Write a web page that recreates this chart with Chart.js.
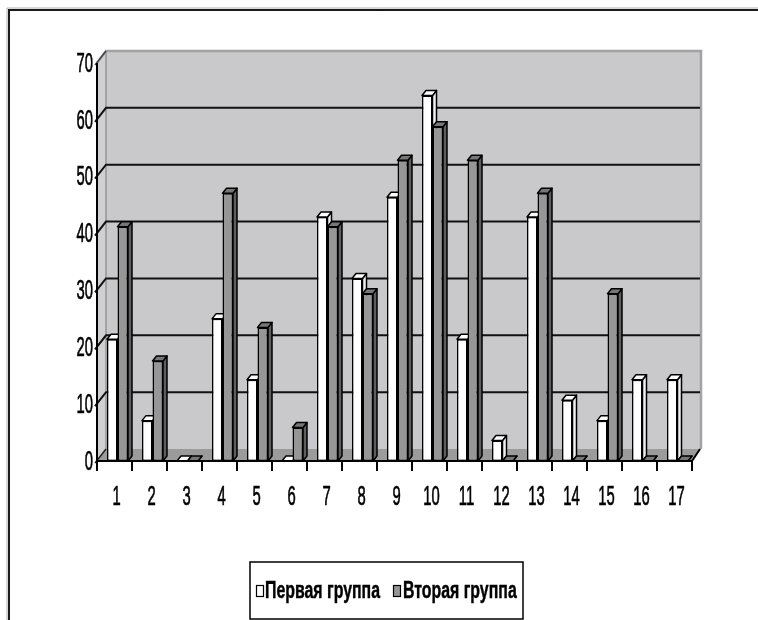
<!DOCTYPE html>
<html>
<head>
<meta charset="utf-8">
<script src="https://cdn.jsdelivr.net/npm/chart.js@4/dist/chart.umd.min.js"></script>
<style>
  html, body { margin: 0; padding: 0; background: #fff; }
  #wrap { width: 758px; height: 620px; }
</style>
</head>
<body>
<div id="wrap"><canvas id="chart" width="758" height="620"></canvas></div>
<script>
// --- data ---
const categories = ['1', '2', '3', '4', '5', '6', '7', '8', '9', '10', '11', '12', '13', '14', '15', '16', '17'];
const firstGroup = [21.4, 7.1, 0, 25, 14.3, 0, 42.9, 32.1, 46.4, 64.3, 21.4, 3.6, 42.9, 10.7, 7.1, 14.3, 14.3];
const secondGroup = [41.2, 17.6, 0, 47.1, 23.5, 5.9, 41.2, 29.4, 52.9, 58.8, 52.9, 0, 47.1, 0, 29.4, 0, 0];
const yTicks = [0, 10, 20, 30, 40, 50, 60, 70];
const seriesNames = ['Первая группа', 'Вторая группа'];

// --- look ---
const DX = 9, DY = -12;      // depth of the back wall
const BX = 4, BY = -5;       // depth of each bar
const OFF = 3;               // bars stand a little behind the front plane
const WALL = '#c9c9cb';
const FLOOR = '#9b9b9b';
const EDGE = '#a2a2a2';
const fills = [
    { front: '#ffffff', top: '#ffffff', side: '#f0f0f0' },
    { front: '#969696', top: '#777777', side: '#5e5e5e' }
];

const narrowText = (ctx, txt, x, y, opts) => {
    ctx.save();
    ctx.translate(x, y);
    ctx.scale(opts.sx, opts.sy);
    ctx.font = opts.font;
    ctx.fillStyle = '#000';
    ctx.textAlign = opts.align || 'center';
    ctx.textBaseline = opts.baseline || 'middle';
    ctx.fillText(txt, 0, 0);
    if (opts.stroke) {
        ctx.strokeStyle = '#000';
        ctx.lineWidth = opts.stroke;
        ctx.strokeText(txt, 0, 0);
    }
    ctx.restore();
};

const poly = (ctx, pts, fill, stroke, lw) => {
    ctx.beginPath();
    ctx.moveTo(pts[0][0], pts[0][1]);
    for (let i = 1; i < pts.length; i++) ctx.lineTo(pts[i][0], pts[i][1]);
    ctx.closePath();
    if (fill) { ctx.fillStyle = fill; ctx.fill(); }
    if (stroke) { ctx.strokeStyle = stroke; ctx.lineWidth = lw || 1; ctx.lineJoin = 'round'; ctx.stroke(); }
};

const line = (ctx, pts, color, lw) => {
    ctx.beginPath();
    ctx.moveTo(pts[0][0], pts[0][1]);
    for (let i = 1; i < pts.length; i++) ctx.lineTo(pts[i][0], pts[i][1]);
    ctx.strokeStyle = color;
    ctx.lineWidth = lw;
    ctx.stroke();
};

// walls, floor, grid and the 3D faces of each bar (fronts are drawn by Chart.js)
const wallPlugin = {
    id: 'wall3d',
    beforeDatasetsDraw(chart) {
        const { ctx, chartArea: ca, scales } = chart;
        const ys = scales.y;
        const a = { left: ca.left - OFF, right: ca.right - OFF, top: ca.top, bottom: ca.bottom };
        ctx.save();
        // side wall + back wall
        poly(ctx, [[a.left, a.bottom], [a.left, a.top], [a.left + DX, a.top + DY], [a.left + DX, a.bottom + DY]], '#d0d0d2');
        ctx.fillStyle = WALL;
        ctx.fillRect(a.left + DX, a.top + DY, a.right - a.left, a.bottom - a.top);
        // floor
        poly(ctx, [[a.left, a.bottom], [a.right, a.bottom], [a.right + DX, a.bottom + DY], [a.left + DX, a.bottom + DY]], FLOOR);
        // wall edges
        line(ctx, [[a.left, a.top], [a.left + DX, a.top + DY], [a.right + DX, a.top + DY], [a.right + DX, a.bottom + DY]], EDGE, 2.5);
        line(ctx, [[a.left + DX, a.top + DY], [a.left + DX, a.bottom + DY]], EDGE, 2);
        // grid lines
        yTicks.forEach(v => {
            if (v === 0 || v === 70) return;
            const y = ys.getPixelForValue(v);
            line(ctx, [[a.left - 2, y + 2], [a.left + DX, y + DY], [a.right + DX - 1, y + DY]], '#111', 2);
        });
        line(ctx, [[a.left - 2, a.top + 2], [a.left + DX, a.top + DY]], '#444', 1.5);
        line(ctx, [[a.left - 2, a.bottom + 2], [a.left + DX, a.bottom + DY]], '#222', 1.5);

        // side and top faces, per category, first series before second
        for (let i = 0; i < categories.length; i++) {
            chart.data.datasets.forEach((ds, d) => {
                const el = chart.getDatasetMeta(d).data[i];
                if (!el) return;
                const p = el.getProps(['x', 'y', 'base', 'width'], true);
                const L = p.x - p.width / 2, R = p.x + p.width / 2;
                poly(ctx, [[R, p.y], [R + BX, p.y + BY], [R + BX, p.base + BY], [R, p.base]], fills[d].side, '#000', 1.5);
                poly(ctx, [[L, p.y], [L + BX, p.y + BY], [R + BX, p.y + BY], [R, p.y]], fills[d].top, '#000', 1.5);
            });
        }
        ctx.restore();
    },
    afterDraw(chart) {
        const { ctx, chartArea: ca, scales } = chart;
        const xs = scales.x, ys = scales.y;
        const a = { left: ca.left - OFF, right: ca.right - OFF, top: ca.top, bottom: ca.bottom };
        ctx.save();
        // front axes
        line(ctx, [[a.left, a.top], [a.left, a.bottom]], '#000', 2);
        line(ctx, [[a.left, a.bottom], [a.right, a.bottom], [a.right + DX - 1, a.bottom + DY]], '#000', 2);
        const step = xs.getPixelForValue(1) - xs.getPixelForValue(0);
        for (let k = 0; k <= categories.length; k++) {
            const x = Math.round(a.left + k * step);
            line(ctx, [[x, a.bottom], [x, a.bottom + 10]], '#000', 2);
        }
        // tick labels
        const tickFont = { font: '20px "Liberation Sans", Arial, sans-serif', sx: 0.74, sy: 1.4, stroke: 0.5 };
        yTicks.forEach(v => {
            narrowText(ctx, String(v), a.left - 4, ys.getPixelForValue(v) + 1, { ...tickFont, align: 'right' });
        });
        categories.forEach((c, i) => {
            narrowText(ctx, c, xs.getPixelForValue(i) - OFF + 2, a.bottom + 36, tickFont);
        });

        // legend
        const box = { l: 250, t: 562, r: 523, b: 619 };
        ctx.lineWidth = 1.5;
        ctx.strokeStyle = '#000';
        ctx.strokeRect(box.l, box.t, box.r - box.l, box.b - box.t);
        const lf = '700 20px "Liberation Sans", Arial, sans-serif';
        ctx.font = lf;
        const sx = 115 / ctx.measureText(seriesNames[0]).width;
        const items = [{ sw: 256, tx: 265 }, { sw: 393, tx: 403 }];
        items.forEach((it, d) => {
            ctx.fillStyle = fills[d].front;
            ctx.fillRect(it.sw, 585, 8, 12);
            ctx.lineWidth = 1.2;
            ctx.strokeStyle = '#000';
            ctx.strokeRect(it.sw + 0.5, 585.5, 7, 11);
            narrowText(ctx, seriesNames[d], it.tx, 598, { font: lf, sx: sx, sy: 1.15, align: 'left', baseline: 'alphabetic', stroke: 0.4 });
        });

        // outer frame
        line(ctx, [[9, 620], [9, 10], [758, 10]], '#1a1a1a', 2);
        line(ctx, [[7, 620], [7, 8], [758, 8]], '#b0b0b0', 1);
        ctx.restore();
    }
};

new Chart(document.getElementById('chart'), {
    type: 'bar',
    data: {
        labels: categories,
        datasets: [
            {
                label: seriesNames[0],
                data: firstGroup,
                backgroundColor: fills[0].front,
                borderColor: '#000',
                borderWidth: 1.5,
                borderSkipped: false
            },
            {
                label: seriesNames[1],
                data: secondGroup,
                backgroundColor: fills[1].front,
                borderColor: '#000',
                borderWidth: 1.5,
                borderSkipped: false
            }
        ]
    },
    options: {
        responsive: false,
        animation: false,
        devicePixelRatio: 1,
        layout: { padding: { left: 97 + OFF, right: 66 - OFF, top: 63, bottom: 159 } },
        categoryPercentage: 0.6,
        barPercentage: 1,
        scales: {
            x: { display: false },
            y: { display: false, min: 0, max: 70 }
        },
        plugins: {
            legend: { display: false },
            tooltip: { enabled: false }
        }
    },
    plugins: [wallPlugin]
});
</script>
</body>
</html>
